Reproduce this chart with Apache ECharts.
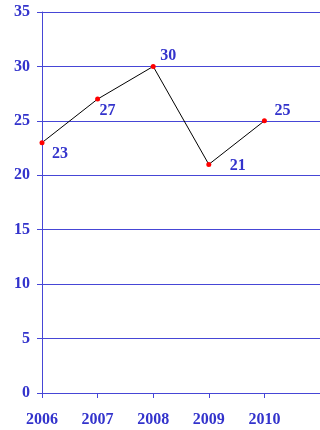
<!DOCTYPE html>
<html>
<head>
<meta charset="utf-8">
<script src="https://cdn.jsdelivr.net/npm/echarts@6/dist/echarts.min.js"></script>
<style>
  html, body { margin: 0; padding: 0; background: #fff; }
  #main { width: 320px; height: 430px; }
</style>
</head>
<body>
<div id="main"></div>
<script>
// data
var years = ['2006', '2007', '2008', '2009', '2010', ''];
var values = [23, 27, 30, 21, 25];
var yTicks = [0, 5, 10, 15, 20, 25, 30, 35];

// label offsets per point (style only)
var labelOffsets = [[18, 11], [10, 12], [15, -11], [29, 1], [18, -10]];

var blue = '#3333cc';
var gridBlue = '#4646d6';
var font = 'Liberation Serif';

var myChart = echarts.init(document.getElementById('main'));

var option = {
    animation: false,
    backgroundColor: '#fff',
    grid: { left: 42, right: 0, top: 12, bottom: 37 },
    xAxis: {
        type: 'category',
        data: years,
        boundaryGap: false,
        axisLine: { lineStyle: { color: gridBlue, width: 1 } },
        axisTick: { show: true, length: 5, lineStyle: { color: gridBlue } },
        axisLabel: {
            color: blue, fontFamily: font, fontWeight: 'bold', fontSize: 16,
            margin: 19, showMaxLabel: false
        },
        splitLine: { show: false }
    },
    yAxis: {
        type: 'value',
        min: yTicks[0],
        max: yTicks[yTicks.length - 1],
        interval: 5,
        axisLine: { show: true, lineStyle: { color: gridBlue, width: 1 } },
        axisTick: { show: true, length: 5, lineStyle: { color: gridBlue } },
        axisLabel: {
            color: blue, fontFamily: font, fontWeight: 'bold', fontSize: 16,
            margin: 12
        },
        splitLine: { show: true, lineStyle: { color: gridBlue, width: 1 } }
    },
    series: [
        {
            type: 'line',
            data: values.map(function (v, i) {
                return {
                    value: v,
                    label: { offset: labelOffsets[i] }
                };
            }),
            symbol: 'circle',
            symbolSize: 5,
            itemStyle: { color: '#ff0000' },
            lineStyle: { color: '#000', width: 1 },
            label: {
                show: true,
                position: 'inside',
                color: blue, fontFamily: font, fontWeight: 'bold', fontSize: 16
            }
        }
    ]
};

myChart.setOption(option);
</script>
</body>
</html>
